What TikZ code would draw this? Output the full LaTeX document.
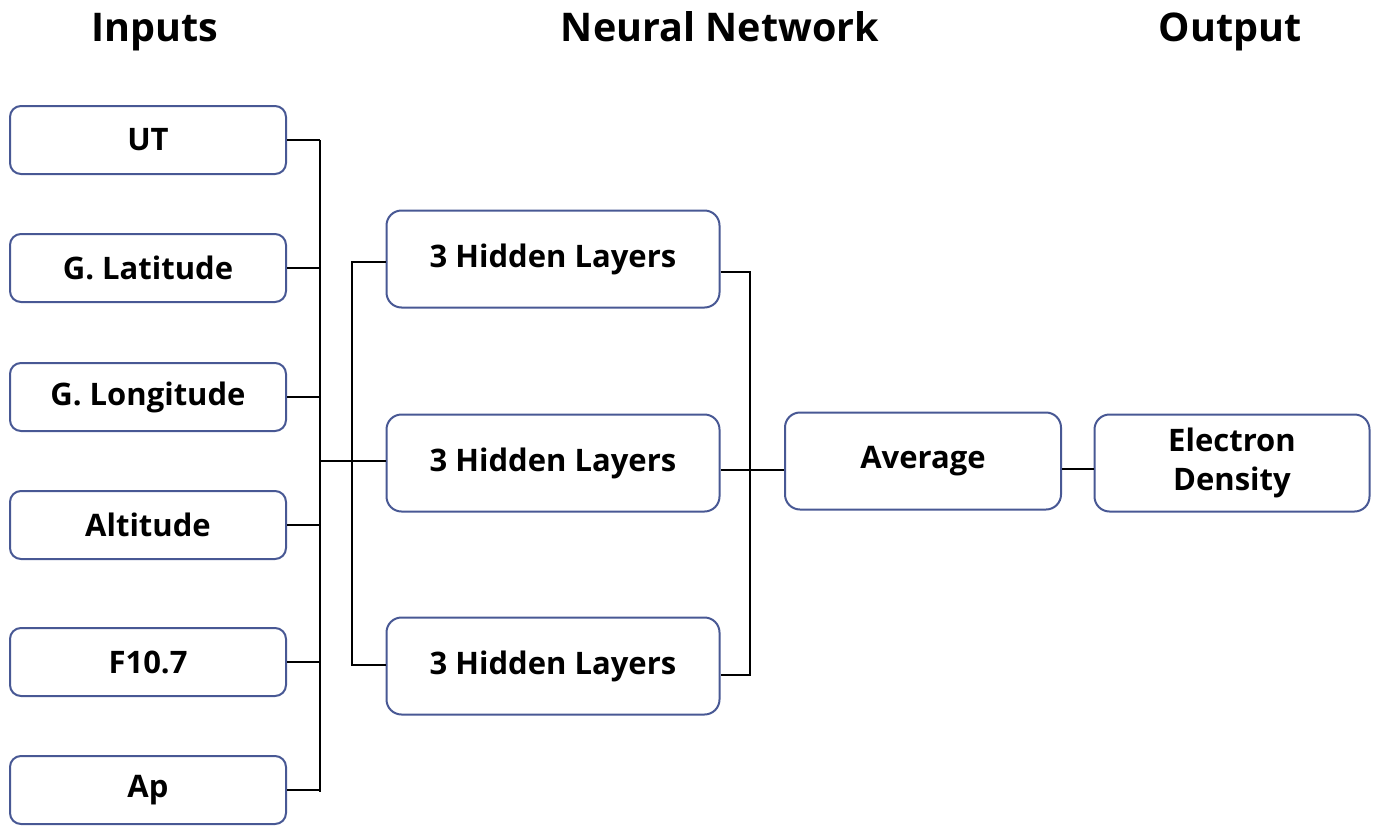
\documentclass[tikz,border=0pt]{standalone}
\usepackage{fontspec}
\setmainfont{Open Sans}
\usetikzlibrary{calc}
\definecolor{boxline}{RGB}{72,88,148}
\tikzset{
  inbox/.style={draw=boxline, line width=2pt, rounded corners=11pt, fill=white,
    minimum width=276pt, minimum height=68pt, inner sep=0pt,
    font=\fontsize{31}{38}\selectfont\bfseries, align=center},
  netbox/.style={inbox, rounded corners=15pt, minimum height=97pt},
  wire/.style={draw=black, line width=2.3pt},
  heading/.style={anchor=base, inner sep=0pt, font=\fontsize{39.5}{44}\selectfont\bfseries}
}
\begin{document}
\begin{tikzpicture}[x=1pt, y=-1pt]
\useasboundingbox (0,0) rectangle (1379,825);

% column headings
\node[heading] (tin) at (155,41) {Inputs};
\node[heading] (tnn) at (720,41) {Neural Network};
\node[heading] (tout) at (1230,41) {Output};

% input variables
\node[inbox] (in1) at (148,140) {UT};
\node[inbox] (in2) at (148,268) {G. Latitude};
\node[inbox] (in3) at (148,397) {G. Longitude};
\node[inbox] (in4) at (148,525) {Altitude};
\node[inbox] (in5) at (148,662) {F10.7};
\node[inbox] (in6) at (148,790) {Ap};

% ensemble of networks
\node[netbox, minimum width=333pt] (h1) at (553,259) {3 Hidden Layers};
\node[netbox, minimum width=333pt] (h2) at (553,463) {3 Hidden Layers};
\node[netbox, minimum width=333pt] (h3) at (553,666) {3 Hidden Layers};

% combination and result
\node[netbox, minimum width=276pt] (avg) at (923,461) {Average};
\node[netbox, minimum width=275pt] (ed) at (1232,463) {Electron\\[1pt]Density};

% input bus
\coordinate (bustop) at (320,140);
\coordinate (busbot) at (320,792);
\coordinate (busmid) at (320,461);
\draw[wire] (bustop) -- (busbot);
\foreach \n in {in1,in2,in3,in4,in5,in6}
  \draw[wire] (\n.east) -- (\n.east -| bustop);

% fan-out to the three networks
\coordinate (fan) at (352,0);
\draw[wire] (busmid) -- (busmid -| h2.west);
\draw[wire] ($(h1.west)+(0,3)$) -| (fan |- busmid)
  |- ($(h3.west)+(0,-1)$);

% fan-in to the average
\coordinate (join) at (750,0);
\draw[wire] ($(h1.east)+(0,13)$) -| (join |- avg.west)
  |- ($(h3.east)+(0,9)$);
\draw[wire] ($(h2.east)+(0,7)$) -- ($(avg.west)+(0,9)$);
\draw[wire] ($(avg.east)+(0,8)$) -- ($(ed.west)+(0,6)$);
\end{tikzpicture}
\end{document}
